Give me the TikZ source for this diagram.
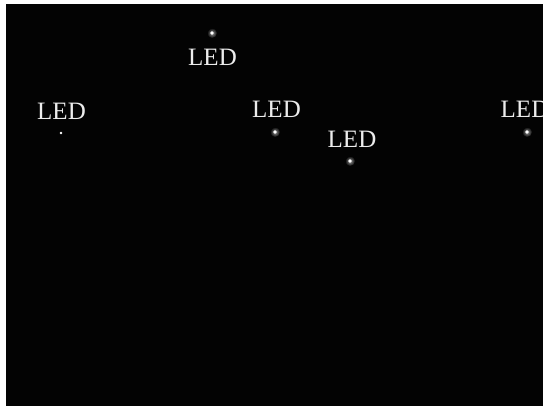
\documentclass[tikz,border=0pt]{standalone}
\usepackage{fontspec}
\setmainfont{Liberation Serif}
\definecolor{ledwhite}{RGB}{236,236,236}
\definecolor{panel}{RGB}{3,3,3}

\begin{document}
\begin{tikzpicture}[x=1pt, y=-1pt,
    ledlabel/.style={anchor=base, inner sep=0pt, text=ledwhite, font=\fontsize{25}{29}\selectfont},
    leddot/.style={circle, fill=white, inner sep=0pt, minimum size=#1},
    leddot/.default=3.6pt,
    glow/.style={circle, inner sep=0pt, minimum size=10pt, inner color=gray!80, outer color=panel}]
    % Page and dark panel
    \useasboundingbox (0,0) rectangle (543,406);
    \fill[white] (0,0) rectangle (543,406);
    \fill[panel] (6,4) rectangle (543,406);

    % Glow round the points
    \node [glow] at (212,33) {};
    \node [glow] at (275,132) {};
    \node [glow] at (350,161) {};
    \node [glow] at (527,132) {};

    % Points
    \node [leddot=2.6pt] (p1) at (61,133) {};
    \node [leddot] (p2) at (212,33) {};
    \node [leddot] (p3) at (275,132) {};
    \node [leddot] (p4) at (350,161) {};
    \node [leddot] (p5) at (527,132) {};

    % Labels
    \node [ledlabel] (l1) at (61.5,120) {LED};
    \node [ledlabel] (l2) at (212.5,66) {LED};
    \node [ledlabel] (l3) at (276.5,118) {LED};
    \node [ledlabel] (l4) at (352,148) {LED};
    \node [ledlabel] (l5) at (525,118) {LED};
\end{tikzpicture}
\end{document}
